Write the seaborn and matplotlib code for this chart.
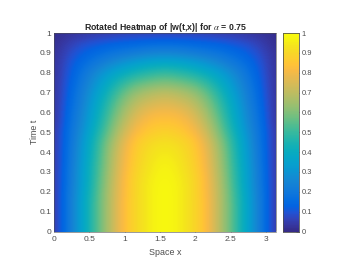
import matplotlib
matplotlib.use("Agg")
import matplotlib.pyplot as plt
from matplotlib.colors import LinearSegmentedColormap
import numpy as np
import seaborn as sns

# |w(t,x)|, top row is t = 1, bottom row is t = 0
# columns run over x in steps of pi/16, rows over t in steps of 0.05
w_values = [
    [.01, .02, .03, .04, .04, .05, .05, .05, .05, .05, .05, .05, .04, .04, .03, .02, .01],
    [.01, .05, .08, .10, .12, .13, .14, .15, .15, .15, .14, .13, .12, .10, .08, .05, .01],
    [.02, .07, .12, .15, .18, .20, .22, .24, .25, .24, .22, .20, .18, .15, .12, .07, .02],
    [.02, .09, .15, .20, .25, .30, .34, .37, .38, .37, .34, .30, .25, .20, .15, .09, .02],
    [.02, .10, .18, .26, .34, .40, .45, .48, .50, .48, .45, .40, .34, .26, .18, .10, .02],
    [.02, .11, .20, .30, .40, .49, .55, .58, .60, .58, .55, .49, .40, .30, .20, .11, .02],
    [.02, .12, .22, .33, .45, .56, .64, .68, .70, .68, .64, .56, .45, .33, .22, .12, .02],
    [.02, .13, .23, .36, .49, .61, .70, .74, .76, .74, .70, .61, .49, .36, .23, .13, .02],
    [.02, .14, .25, .38, .52, .65, .75, .80, .81, .80, .75, .65, .52, .38, .25, .14, .02],
    [.02, .15, .26, .40, .55, .69, .79, .84, .85, .84, .79, .69, .55, .40, .26, .15, .02],
    [.03, .16, .28, .43, .58, .73, .83, .87, .89, .87, .83, .73, .58, .43, .28, .16, .03],
    [.03, .16, .30, .46, .62, .77, .87, .91, .93, .91, .87, .77, .62, .46, .30, .16, .03],
    [.03, .17, .31, .47, .64, .79, .88, .93, .95, .93, .88, .79, .64, .47, .31, .17, .03],
    [.03, .17, .32, .48, .65, .80, .89, .94, .97, .94, .89, .80, .65, .48, .32, .17, .03],
    [.03, .18, .33, .49, .66, .81, .90, .95, .98, .95, .90, .81, .66, .49, .33, .18, .03],
    [.03, .18, .33, .50, .67, .82, .91, .96, .99, .96, .91, .82, .67, .50, .33, .18, .03],
    [.03, .19, .34, .51, .68, .82, .91, .96, 1.0, .96, .91, .82, .68, .51, .34, .19, .03],
    [.03, .19, .35, .52, .68, .83, .91, .96, 1.0, .96, .91, .83, .68, .52, .35, .19, .03],
    [.03, .19, .35, .52, .68, .83, .91, .96, 1.0, .96, .91, .83, .68, .52, .35, .19, .03],
    [.03, .19, .35, .52, .68, .83, .91, .96, 1.0, .96, .91, .83, .68, .52, .35, .19, .03],
    [.03, .19, .35, .52, .68, .83, .91, .96, 1.0, .96, .91, .83, .68, .52, .35, .19, .03],
]
x_ticks = [0, 0.5, 1, 1.5, 2, 2.5, 3]
x_labels = ["0", "0.5", "1", "1.5", "2", "2.5", "3"]
t_ticks = [0, 0.1, 0.2, 0.3, 0.4, 0.5, 0.6, 0.7, 0.8, 0.9, 1]
t_labels = ["0", "0.1", "0.2", "0.3", "0.4", "0.5", "0.6", "0.7", "0.8", "0.9", "1"]
x_max = np.pi

# MATLAB parula
parula_colors = [
    (0.2081, 0.1663, 0.5292), (0.2123, 0.2138, 0.6270), (0.1959, 0.2645, 0.7279),
    (0.1253, 0.3242, 0.8303), (0.0117, 0.3875, 0.8820), (0.0165, 0.4266, 0.8786),
    (0.0498, 0.4586, 0.8641), (0.0723, 0.4887, 0.8467), (0.0793, 0.5200, 0.8312),
    (0.0641, 0.5570, 0.8240), (0.0343, 0.5966, 0.8199), (0.0239, 0.6287, 0.8038),
    (0.0228, 0.6535, 0.7768), (0.0384, 0.6743, 0.7436), (0.0843, 0.6928, 0.7062),
    (0.1453, 0.7098, 0.6646), (0.2178, 0.7250, 0.6193), (0.3022, 0.7376, 0.5712),
    (0.3953, 0.7459, 0.5244), (0.4871, 0.7491, 0.4840), (0.5709, 0.7485, 0.4494),
    (0.6473, 0.7456, 0.4188), (0.7184, 0.7411, 0.3905), (0.7858, 0.7356, 0.3633),
    (0.8507, 0.7299, 0.3360), (0.9139, 0.7258, 0.3063), (0.9739, 0.7314, 0.2666),
    (0.9990, 0.7653, 0.2164), (0.9880, 0.8066, 0.1794), (0.9697, 0.8481, 0.1475),
    (0.9589, 0.8949, 0.1132), (0.9661, 0.9514, 0.0755), (0.9763, 0.9831, 0.0538),
]
parula = LinearSegmentedColormap.from_list("parula", parula_colors, N=256)

GRAY = "#4d4d4d"
W, H = 343, 265

sns.set_theme(style="white")
plt.rcParams["font.family"] = ["Liberation Sans", "DejaVu Sans"]
plt.rcParams["mathtext.fontset"] = "stix"

fig = plt.figure(figsize=(W / 100, H / 100), dpi=100)
ax = fig.add_axes([54 / W, 1 - 231.5 / H, 222 / W, 198.5 / H])
cax = fig.add_axes([283 / W, 1 - 231.5 / H, 16 / W, 198.5 / H])

w = np.array(w_values)
n_rows, n_cols = w.shape
sns.heatmap(w, ax=ax, cbar_ax=cax, cmap=parula, vmin=0, vmax=1,
            xticklabels=False, yticklabels=False)

# smooth the cells the way interpolated shading does
ax.imshow(w, cmap=parula, vmin=0, vmax=1, interpolation="bicubic",
          extent=(0, n_cols, n_rows, 0), aspect="auto", zorder=2)

# the grid values sit on the cell centres, so the axes run centre to centre
ax.set_xlim(0.5, n_cols - 0.5)
ax.set_ylim(n_rows - 0.5, 0.5)

ax.set_xticks([0.5 + x / x_max * (n_cols - 1) for x in x_ticks])
ax.set_xticklabels(x_labels, rotation=0)
ax.set_yticks([0.5 + (1 - t) * (n_rows - 1) for t in t_ticks])
ax.set_yticklabels(t_labels, rotation=0)
ax.tick_params(direction="in", length=2, width=0.4, color=GRAY, labelcolor=GRAY,
               labelsize=6, pad=3.5, bottom=True, left=True)
ax.tick_params(axis="y", pad=2)
for spine in ax.spines.values():
    spine.set_visible(True)
    spine.set_color(GRAY)
    spine.set_linewidth(0.4)

ax.set_xlabel("Space x", fontsize=6.4, color=GRAY, labelpad=3.5)
ax.set_ylabel("Time t", fontsize=6.4, color=GRAY, labelpad=0.5)
ax.set_title(r"Rotated Heatmap of |w(t,x)| for $\alpha$ = 0.75", fontsize=6.3,
             fontweight="bold", color="#262626", pad=2.5)

cax.set_yticks(t_ticks)
cax.set_yticklabels(t_labels)
cax.tick_params(direction="in", length=2, width=0.4, color=GRAY, labelcolor=GRAY,
                labelsize=5.4, pad=2, right=True)
for spine in cax.spines.values():
    spine.set_visible(True)
    spine.set_color(GRAY)
    spine.set_linewidth(0.4)

fig.savefig("out.png", dpi=100)
plt.close(fig)
